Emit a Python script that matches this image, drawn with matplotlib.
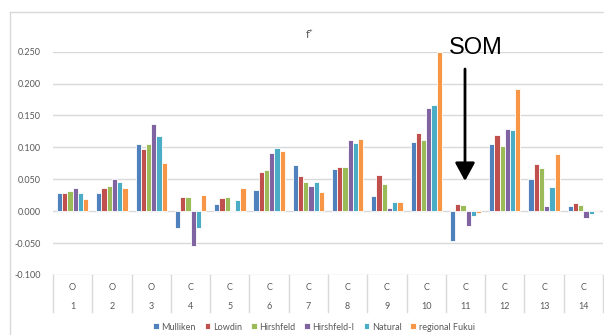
import numpy as np
import matplotlib
matplotlib.use("Agg")
import matplotlib.pyplot as plt
from matplotlib.transforms import blended_transform_factory

plt.rcParams['font.family'] = ['Lato', 'DejaVu Sans']

elements = ["O", "O", "O", "C", "C", "C", "C", "C", "C", "C", "C", "C", "C", "C"]
atoms = ["1", "2", "3", "4", "5", "6", "7", "8", "9", "10", "11", "12", "13", "14"]

mulliken = [0.029, 0.028, 0.105, -0.026, 0.011, 0.034, 0.072, 0.066, 0.0235, 0.108, -0.046, 0.106, 0.051, 0.008]
lowdin = [0.029, 0.036, 0.097, 0.023, 0.020, 0.062, 0.055, 0.0695, 0.056, 0.122, 0.012, 0.119, 0.074, 0.0135]
hirshfeld = [0.031, 0.040, 0.105, 0.0215, 0.023, 0.064, 0.0455, 0.0685, 0.042, 0.111, 0.0105, 0.102, 0.067, 0.010]
hirshfeld_i = [0.036, 0.051, 0.137, -0.054, 0.001, 0.092, 0.039, 0.112, 0.005, 0.1625, -0.023, 0.1295, 0.008, -0.0105]
natural = [0.029, 0.045, 0.118, -0.026, 0.018, 0.099, 0.0465, 0.1065, 0.015, 0.167, -0.008, 0.1265, 0.0375, -0.0037]
regional_fukui = [0.019, 0.036, 0.075, 0.026, 0.037, 0.095, 0.030, 0.1135, 0.015, 0.250, -0.0026, 0.191, 0.090, 0.0016]

series = [
    ("Mulliken", mulliken, "#4F81BD"),
    ("Lowdin", lowdin, "#C0504D"),
    ("Hirshfeld", hirshfeld, "#9BBB59"),
    ("Hirshfeld-I", hirshfeld_i, "#8064A2"),
    ("Natural", natural, "#4BACC6"),
    ("regional Fukui", regional_fukui, "#F79646"),
]

W, H = 604, 335
fig = plt.figure(figsize=(W / 100, H / 100), dpi=100)
ax = fig.add_axes([53 / W, 1 - 275 / H, 550 / W, (275 - 51.7) / H])

x = np.arange(len(atoms))
bw = 0.8 / len(series)
for i, (name, vals, col) in enumerate(series):
    ax.bar(x - 0.4 + bw * (i + 0.5), vals, bw, color=col, edgecolor="white",
           linewidth=0.6, label=name, zorder=3)

ax.set_xlim(-0.5, len(atoms) - 0.5)
ax.set_ylim(-0.1, 0.25)
ax.set_yticks(np.arange(-0.1, 0.2501, 0.05))
ax.set_yticklabels([f"{v:.3f}" for v in np.arange(-0.1, 0.2501, 0.05)])
ax.grid(axis="y", color="#D9D9D9", lw=1, zorder=0)
ax.tick_params(axis="y", length=0, pad=9, labelsize=6.5, labelcolor="#595959")
ax.set_xticks([])
for s in ax.spines.values():
    s.set_visible(False)

# two-level category axis
tr = blended_transform_factory(ax.transData, ax.transAxes)
for k in range(len(atoms) + 1):
    ax.plot([k - 0.5, k - 0.5], [0, -0.166], transform=tr, color="#D9D9D9",
            lw=1, clip_on=False)
for k in range(len(atoms)):
    ax.text(k, -0.054, elements[k], transform=tr, ha="center", va="center",
            fontsize=6.5, color="#595959")
    ax.text(k, -0.139, atoms[k], transform=tr, ha="center", va="center",
            fontsize=6.5, color="#595959")

# chart frame
fig.add_artist(plt.Line2D([10 / W, 10 / W], [0, 1 - 12 / H], color="#D9D9D9", lw=1))
fig.add_artist(plt.Line2D([10 / W, 1], [1 - 12 / H, 1 - 12 / H], color="#D9D9D9", lw=1))

fig.text(310 / W, 1 - 34 / H, "f⁺", ha="center", va="center", fontsize=8,
         color="#595959")

fig.legend(loc="center", bbox_to_anchor=(314 / W, 1 - 327 / H), ncol=6,
           frameon=False, fontsize=6.5, labelcolor="#595959", handlelength=0.6,
           handleheight=0.6, handletextpad=0.3, columnspacing=1.0)

fig.text(476 / W, 1 - 48 / H, "SOM", ha="center", va="center", fontsize=17,
         family="Liberation Sans", color="black")
ax.annotate("", xy=(465 / W, 1 - 181 / H), xytext=(465 / W, 1 - 69 / H),
            xycoords="figure fraction", textcoords="figure fraction",
            arrowprops=dict(arrowstyle="-|>,head_length=0.55,head_width=0.3",
                            mutation_scale=20, color="black", lw=2,
                            shrinkA=0, shrinkB=0))

fig.savefig("out.png", dpi=100)
